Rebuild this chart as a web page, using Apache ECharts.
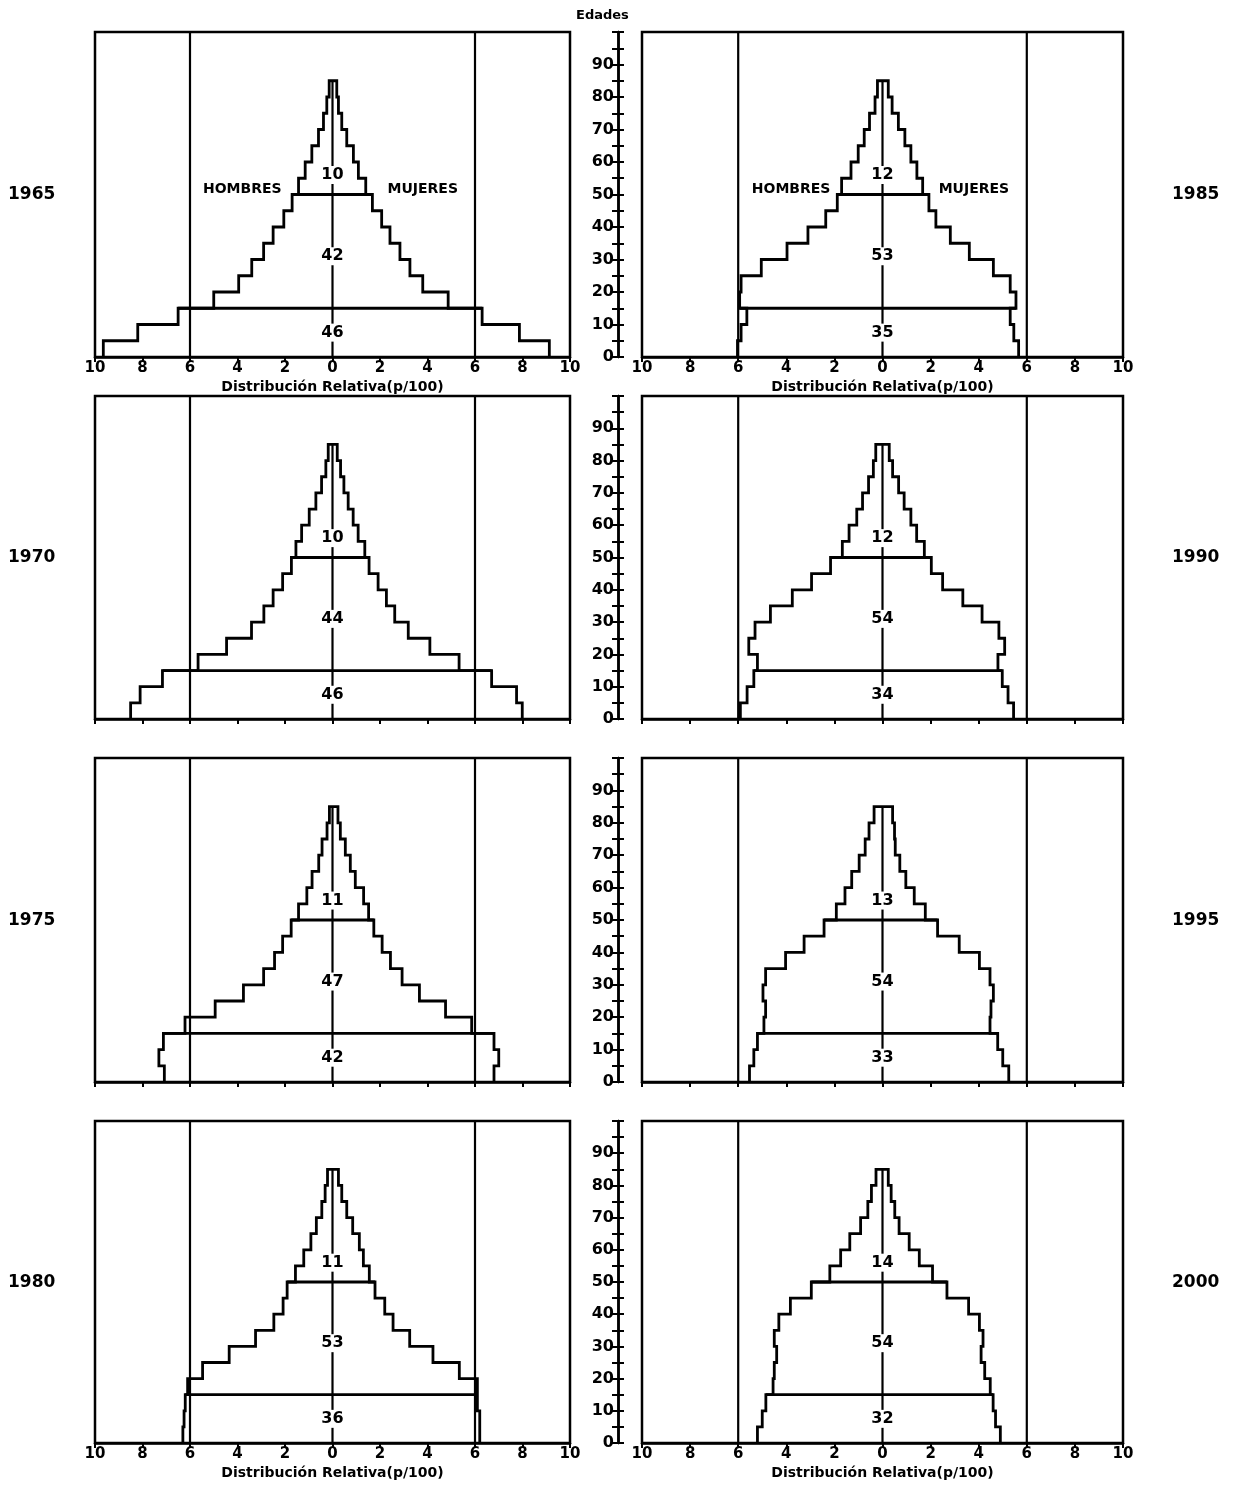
<!DOCTYPE html>
<html><head><meta charset="utf-8">
<script src="https://cdn.jsdelivr.net/npm/echarts@6/dist/echarts.min.js"></script>
<style>html,body{margin:0;padding:0;background:#fff}#c{width:1237px;height:1485px}</style>
</head><body><div id="c"></div>
<script>
// Age groups (5-year groups, lower bound)
const ageGroups = ['0-4','5-9','10-14','15-19','20-24','25-29','30-34','35-39','40-44','45-49','50-54','55-59','60-64','65-69','70-74','75-79','80-84'];
const ageStarts = [0,5,10,15,20,25,30,35,40,45,50,55,60,65,70,75,80];
const xTicks = [-10,-8,-6,-4,-2,0,2,4,6,8,10];
const ageTicks = [0,10,20,30,40,50,60,70,80,90];

// Relative distribution (per 100) — hombres (men), mujeres (women)
const hombres1965 = [9.65,8.2,6.5,5.0,3.95,3.4,2.9,2.5,2.05,1.7,1.43,1.15,0.87,0.59,0.38,0.24,0.14];
const mujeres1965 = [9.13,7.87,6.3,4.87,3.8,3.26,2.84,2.42,2.07,1.68,1.4,1.09,0.88,0.6,0.39,0.25,0.18];
const hombres1970 = [8.5,8.1,7.16,5.66,4.46,3.41,2.89,2.5,2.1,1.73,1.54,1.3,0.98,0.7,0.46,0.28,0.18];
const mujeres1970 = [7.99,7.75,6.7,5.33,4.1,3.19,2.62,2.27,1.92,1.54,1.36,1.08,0.87,0.66,0.48,0.34,0.2];
const hombres1975 = [7.08,7.31,7.12,6.21,4.94,3.75,2.9,2.44,2.1,1.74,1.43,1.08,0.86,0.58,0.44,0.23,0.13];
const mujeres1975 = [6.8,7.0,6.8,5.86,4.76,3.66,2.93,2.44,2.09,1.74,1.52,1.31,0.96,0.75,0.54,0.33,0.23];
const hombres1980 = [6.3,6.25,6.2,6.1,5.47,4.35,3.24,2.47,2.08,1.91,1.56,1.21,0.91,0.68,0.45,0.31,0.21];
const mujeres1980 = [6.2,6.2,6.1,6.1,5.34,4.23,3.25,2.55,2.2,1.79,1.55,1.3,1.13,0.85,0.6,0.39,0.25];
const hombres1985 = [6.03,5.88,5.64,5.94,5.88,5.04,3.97,3.1,2.36,1.88,1.7,1.31,1.01,0.76,0.54,0.31,0.21];
const mujeres1985 = [5.66,5.46,5.31,5.55,5.31,4.61,3.61,2.82,2.22,1.93,1.67,1.43,1.18,0.93,0.66,0.4,0.24];
const hombres1990 = [5.91,5.63,5.35,5.2,5.56,5.3,4.66,3.75,2.95,2.16,1.67,1.39,1.07,0.83,0.58,0.38,0.28];
const mujeres1990 = [5.45,5.22,4.98,4.8,5.08,4.84,4.14,3.34,2.5,2.03,1.74,1.42,1.18,0.9,0.67,0.42,0.28];
const hombres1995 = [5.53,5.35,5.2,4.93,4.86,4.97,4.86,4.03,3.26,2.43,1.92,1.56,1.28,0.97,0.72,0.56,0.35];
const mujeres1995 = [5.25,5.0,4.79,4.47,4.51,4.61,4.47,4.03,3.19,2.29,1.78,1.32,0.97,0.72,0.53,0.5,0.42];
const hombres2000 = [5.2,5.0,4.85,4.55,4.5,4.4,4.5,4.31,3.83,2.96,2.19,1.74,1.36,0.91,0.61,0.46,0.27];
const mujeres2000 = [4.9,4.7,4.6,4.48,4.25,4.1,4.18,4.03,3.58,2.68,2.08,1.53,1.11,0.69,0.51,0.36,0.24];

// Broad-group totals: [0-14, 15-49, 50+]
const totales1965 = ['46','42','10'];
const totales1970 = ['46','44','10'];
const totales1975 = ['42','47','11'];
const totales1980 = ['36','53','11'];
const totales1985 = ['35','53','12'];
const totales1990 = ['34','54','12'];
const totales1995 = ['33','54','13'];
const totales2000 = ['32','54','14'];

const years = ['1965','1970','1975','1980','1985','1990','1995','2000'];
const menByYear = [hombres1965,hombres1970,hombres1975,hombres1980,hombres1985,hombres1990,hombres1995,hombres2000];
const womenByYear = [mujeres1965,mujeres1970,mujeres1975,mujeres1980,mujeres1985,mujeres1990,mujeres1995,mujeres2000];
const totalsByYear = [totales1965,totales1970,totales1975,totales1980,totales1985,totales1990,totales1995,totales2000];

// ---- layout ----
const FONT = 'DejaVu Sans';
const rowTop = [32, 396, 758, 1121];
const rowH = [325, 323, 324, 322];
const colLeft = [95, 642];
const colW = [475, 481];
const axisX = 618;
const totalLabelAges = [7.5, 31, 56];

const grids = [], xAxes = [], yAxes = [], series = [], graphics = [];

function outline(m, w) {
  const pts = [];
  for (let i = 0; i < m.length; i++) {
    pts.push([-m[i], ageStarts[i]]);
    pts.push([-m[i], ageStarts[i] + 5]);
  }
  for (let i = w.length - 1; i >= 0; i--) {
    pts.push([w[i], ageStarts[i] + 5]);
    pts.push([w[i], ageStarts[i]]);
  }
  return pts;
}
function divider(m, w, age) {
  const i = ageStarts.indexOf(age);
  return [[-Math.max(m[i - 1], m[i]), age], [Math.max(w[i - 1], w[i]), age]];
}

years.forEach((yr, k) => {
  const col = k < 4 ? 0 : 1;
  const row = k % 4;
  const m = menByYear[k], w = womenByYear[k], t = totalsByYear[k];
  const gi = grids.length;
  grids.push({ left: colLeft[col], top: rowTop[row], width: colW[col], height: rowH[row],
    show: true, borderColor: '#000', borderWidth: 2.5, backgroundColor: 'transparent' });
  const showLabels = (row === 0 || row === 3);
  xAxes.push({
    gridIndex: gi, type: 'value', min: xTicks[0], max: xTicks[xTicks.length - 1], interval: 2,
    axisLine: { show: true, onZero: false, lineStyle: { color: '#000', width: 2.5 } },
    axisTick: { show: true, length: 5, lineStyle: { color: '#000', width: 2 } },
    splitLine: { show: false },
    axisLabel: { show: showLabels, color: '#000', fontFamily: FONT, fontWeight: 'bold', fontSize: 15, margin: 4,
      formatter: v => String(Math.abs(v)) },
    name: showLabels ? 'Distribución Relativa(p/100)' : '',
    nameLocation: 'middle', nameGap: 23,
    nameTextStyle: { color: '#000', fontFamily: FONT, fontWeight: 'bold', fontSize: 14 }
  });
  yAxes.push({ gridIndex: gi, type: 'value', min: 0, max: 100, interval: 5, show: false });

  const shapes = [
    { pts: outline(m, w), width: 2.8 },
    { pts: divider(m, w, 15), width: 2.8 },
    { pts: divider(m, w, 50), width: 2.8 },
    { pts: [[0, 0], [0, 85]], width: 2.2 },
    { pts: [[-6, 0], [-6, 100]], width: 2.2 },
    { pts: [[6, 0], [6, 100]], width: 2.2 }
  ];
  series.push({
    type: 'custom', coordinateSystem: 'cartesian2d', xAxisIndex: gi, yAxisIndex: gi,
    silent: true, animation: false, clip: false, z: 3,
    data: [[0, 0]],
    renderItem: (params, api) => ({
      type: 'group',
      children: shapes.map(s => ({
        type: 'polyline',
        shape: { points: s.pts.map(p => api.coord(p)) },
        style: { stroke: '#000', lineWidth: s.width, fill: null, lineJoin: 'miter' }
      }))
    })
  });
  const labelData = t.map((v, j) => ({ value: [0, totalLabelAges[j]], label: { formatter: v } }));
  if (row === 0) {
    labelData.push({ value: [-3.8, 51.5], label: { formatter: 'HOMBRES', fontSize: 14, backgroundColor: 'transparent' } });
    labelData.push({ value: [3.8, 51.5], label: { formatter: 'MUJERES', fontSize: 14, backgroundColor: 'transparent' } });
  }
  series.push({
    type: 'scatter', xAxisIndex: gi, yAxisIndex: gi, symbolSize: 0, silent: true, animation: false, z: 5,
    itemStyle: { opacity: 1 },
    data: labelData,
    label: { show: true, position: 'inside', color: '#000', fontFamily: FONT, fontWeight: 'bold', fontSize: 16,
      backgroundColor: '#fff', padding: [1, 1] }
  });
  graphics.push({
    type: 'text', left: col === 0 ? 8 : 1172, top: rowTop[row] + rowH[row] * 0.475,
    style: { text: yr, fill: '#000', font: 'bold 17px "' + FONT + '"' }
  });
});

// central age axes
for (let row = 0; row < 4; row++) {
  const gi = grids.length;
  grids.push({ left: axisX, top: rowTop[row], width: 2, height: rowH[row], show: false });
  xAxes.push({ gridIndex: gi, type: 'value', show: false, min: 0, max: 1 });
  const base = { gridIndex: gi, type: 'value', min: 0, max: 100, interval: 5, position: 'left',
    axisLine: { show: true, lineStyle: { color: '#000', width: 2.5 } },
    splitLine: { show: false } };
  yAxes.push(Object.assign({}, base, {
    axisTick: { show: true, inside: false, length: 6, lineStyle: { color: '#000', width: 2 } },
    axisLabel: { show: true, margin: 4, color: '#000', fontFamily: FONT, fontWeight: 'bold', fontSize: 16,
      formatter: v => ageTicks.indexOf(v) >= 0 ? String(v) : '' }
  }));
  yAxes.push(Object.assign({}, base, {
    axisTick: { show: true, inside: true, length: 6, lineStyle: { color: '#000', width: 2 } },
    axisLabel: { show: false }
  }));
}
graphics.push({ type: 'text', left: 576, top: 9, style: { text: 'Edades', fill: '#000', font: 'bold 13px "' + FONT + '"' } });

const chart = echarts.init(document.getElementById('c'), null, { renderer: 'canvas' });
chart.setOption({
  backgroundColor: '#fff',
  animation: false,
  grid: grids, xAxis: xAxes, yAxis: yAxes, series: series, graphic: graphics
});
</script></body></html>
